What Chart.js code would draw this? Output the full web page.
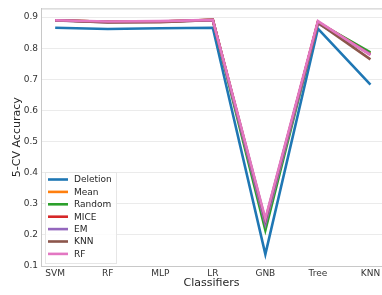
<!doctype html>
<html lang="en">
<head>
<meta charset="utf-8">
<title>5-CV Accuracy by classifier</title>
<script src="https://cdn.jsdelivr.net/npm/chart.js@4.4.4/dist/chart.umd.min.js"></script>
<style>
  html, body { margin: 0; padding: 0; background: #fff; }
  .wrap { width: 382px; height: 295px; position: relative; }
</style>
</head>
<body>
<div class="wrap"><canvas id="chart"></canvas></div>
<script>
// Classifiers along the x axis, in plotted order.
const classifiers = ["SVM", "RF", "MLP", "LR", "GNB", "Tree", "KNN"];

// 5-CV accuracy per imputation method.
const deletion = [0.866, 0.862, 0.864, 0.866, 0.138, 0.863, 0.683];
const mean     = [0.890, 0.885, 0.886, 0.891, 0.240, 0.884, 0.782];
const random   = [0.890, 0.885, 0.886, 0.891, 0.215, 0.883, 0.787];
const mice     = [0.890, 0.885, 0.886, 0.891, 0.240, 0.884, 0.780];
const em       = [0.889, 0.884, 0.885, 0.890, 0.235, 0.880, 0.780];
const knn      = [0.890, 0.883, 0.884, 0.891, 0.248, 0.882, 0.764];
const rf       = [0.890, 0.886, 0.887, 0.891, 0.252, 0.887, 0.778];

const yTicks = [0.1, 0.2, 0.3, 0.4, 0.5, 0.6, 0.7, 0.8, 0.9];

const series = [
  { label: "Deletion", values: deletion, color: "#1f77b4" },
  { label: "Mean", values: mean, color: "#ff7f0e" },
  { label: "Random", values: random, color: "#2ca02c" },
  { label: "MICE", values: mice, color: "#d62728" },
  { label: "EM", values: em, color: "#9467bd" },
  { label: "KNN", values: knn, color: "#8c564b" },
  { label: "RF", values: rf, color: "#e377c2" },
];

const FONT = "'DejaVu Sans', sans-serif";

const datasets = series.map((s, i) => ({
  label: s.label,
  data: s.values.map((v, k) => ({ x: k, y: v })),
  borderColor: s.color,
  backgroundColor: s.color,
  borderWidth: 2.6,
  pointRadius: 0,
  tension: 0,
  order: series.length - i, // later series drawn on top, like matplotlib
}));

// Matplotlib-style legend box inside the lower-left of the plot, plus frame.
const insideLegend = {
  id: "insideLegend",
  afterDraw(chart) {
    const { ctx, chartArea: a } = chart;
    ctx.save();
    ctx.strokeStyle = "#c8c8c8";
    ctx.lineWidth = 1;
    ctx.beginPath();
    ctx.moveTo(a.left + 0.5, a.bottom);
    ctx.lineTo(a.left + 0.5, a.top + 0.5);
    ctx.lineTo(a.right, a.top + 0.5);
    ctx.stroke();

    const x0 = a.left + 4, y0 = 172, w = 71, h = 91;
    ctx.fillStyle = "rgba(255,255,255,0.85)";
    ctx.strokeStyle = "#e6e6e6";
    ctx.fillRect(x0, y0, w, h);
    ctx.strokeRect(x0 + 0.5, y0 + 0.5, w, h);
    ctx.font = "9px " + FONT;
    ctx.textBaseline = "middle";
    ctx.lineWidth = 2.6;
    series.forEach((s, i) => {
      const y = y0 + 7.5 + i * 12.4;
      ctx.strokeStyle = s.color;
      ctx.beginPath();
      ctx.moveTo(x0 + 3, y);
      ctx.lineTo(x0 + 23, y);
      ctx.stroke();
      ctx.fillStyle = "#262626";
      ctx.fillText(s.label, x0 + 29, y + 0.5);
    });
    ctx.restore();
  },
};

new Chart(document.getElementById("chart"), {
  type: "line",
  data: { datasets },
  options: {
    responsive: true,
    maintainAspectRatio: false,
    animation: false,
    layout: { padding: { top: 2, right: 0, left: 0, bottom: 0 } },
    plugins: { legend: { display: false }, tooltip: { enabled: false } },
    scales: {
      x: {
        type: "linear",
        min: -0.27,
        max: 6.22,
        afterBuildTicks: (axis) => { axis.ticks = classifiers.map((_, i) => ({ value: i })); },
        afterFit: (axis) => { axis.height = 29; },
        ticks: {
          callback: (v) => classifiers[v] ?? "",
          color: "#333",
          font: { family: FONT, size: 9 },
          padding: 0,
          maxRotation: 0,
        },
        grid: { display: false, drawTicks: true, tickLength: 2 },
        border: { display: true, color: "#c8c8c8" },
        title: {
          display: true,
          text: "Classifiers",
          color: "#262626",
          font: { family: FONT, size: 11 },
          padding: { top: 0, bottom: 5 },
        },
      },
      y: {
        min: 0.1,
        max: 0.928,
        afterBuildTicks: (axis) => { axis.ticks = yTicks.map((v) => ({ value: v })); },
        afterFit: (axis) => { axis.width = 41; },
        ticks: {
          callback: (v) => v.toFixed(1),
          color: "#333",
          font: { family: FONT, size: 9 },
          padding: 3,
        },
        grid: { color: "#ebebeb", drawTicks: false },
        border: { display: true, color: "#c8c8c8" },
        title: {
          display: true,
          text: "5-CV Accuracy",
          color: "#262626",
          font: { family: FONT, size: 11 },
          padding: { top: 11, bottom: 0 },
        },
      },
    },
  },
  plugins: [insideLegend],
});
</script>
</body>
</html>
